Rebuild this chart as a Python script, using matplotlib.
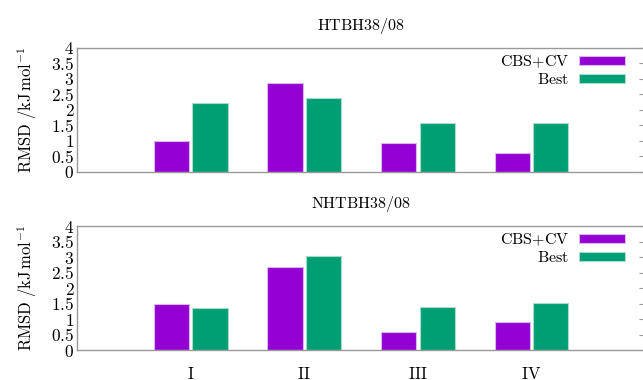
import matplotlib
matplotlib.use('Agg')
import matplotlib.pyplot as plt
import numpy as np

plt.rcParams['mathtext.fontset'] = 'cm'
plt.rcParams['font.family'] = 'serif'
plt.rcParams['font.serif'] = ['DejaVu Serif']

groups = ['I', 'II', 'III', 'IV']
series = ['CBS+CV', 'Best']
colors = ['#9400d3', '#009e73']
edges = ['#d8b8ec', '#a8dcc8']

titles = ['HTBH38/08', 'NHTBH38/08']
htbh_cbs = [1.00, 2.88, 0.92, 0.60]
htbh_best = [2.22, 2.40, 1.59, 1.59]
nhtbh_cbs = [1.47, 2.68, 0.57, 0.89]
nhtbh_best = [1.37, 3.02, 1.39, 1.53]
panels = [(htbh_cbs, htbh_best), (nhtbh_cbs, nhtbh_best)]
yticks = [0, 0.5, 1, 1.5, 2, 2.5, 3, 3.5, 4]

def cm(s):
    return r'$\mathrm{' + s + '}$'

fig = plt.figure(figsize=(6.43, 3.8), dpi=100)
boxes = [[0.1198, 0.5474, 0.8834, 0.3263], [0.1198, 0.0789, 0.8834, 0.3263]]
x = np.arange(1, len(groups) + 1)

for k in range(2):
    ax = fig.add_axes(boxes[k])
    vals = panels[k]
    for i in range(2):
        off = -0.17 if i == 0 else 0.17
        ax.bar(x + off, vals[i], width=0.31, color=colors[i], edgecolor=edges[i],
               linewidth=0.8, label=cm(series[i].replace('+', '{+}')), zorder=2)
    ax.set_xlim(0, 5)
    ax.set_ylim(0, 4)
    ax.set_yticks(yticks)
    ax.set_yticklabels([cm(('%g' % t)) for t in yticks], fontsize=12.5)
    ax.tick_params(axis='y', left=False, right=True, direction='in', length=4,
                   color='#999999', pad=2)
    ax.set_xticks(x)
    if k == 1:
        ax.set_xticklabels([cm(g) for g in groups], fontsize=12)
    else:
        ax.set_xticklabels([])
    ax.tick_params(axis='x', bottom=False, pad=8)
    for s in ax.spines.values():
        s.set_color('#999999')
        s.set_linewidth(1.0)
    ax.set_title(cm(titles[k]), fontsize=11.5, pad=13)
    ax.set_ylabel(cm(r'RMSD\ /kJ\,mol^{-1}'), fontsize=12, labelpad=9)
    ax.legend(loc='upper right', bbox_to_anchor=(0.99, 1.075), frameon=False,
              markerfirst=False, fontsize=11.5, handlelength=2.9, handleheight=0.5,
              labelspacing=0.05, handletextpad=0.6)

fig.savefig('out.png', dpi=100)
